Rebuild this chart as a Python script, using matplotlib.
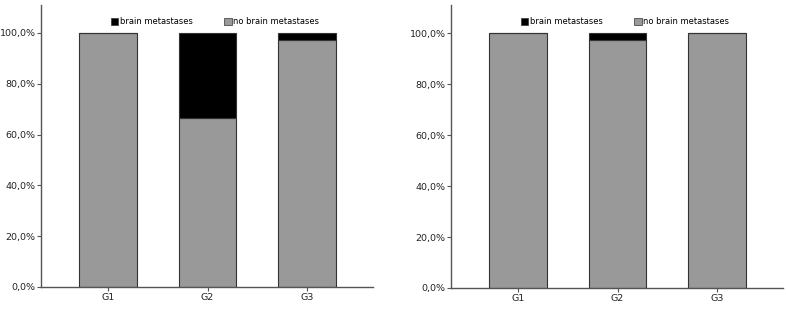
import matplotlib
matplotlib.use("Agg")
import matplotlib.pyplot as plt
from matplotlib.patches import Patch

categories = ["G1", "G2", "G3"]
left_brain = [0.0, 33.3, 2.7]
left_no_brain = [100.0, 66.7, 97.3]
right_brain = [0.0, 2.8, 0.0]
right_no_brain = [100.0, 97.2, 100.0]
yticks = [0, 20, 40, 60, 80, 100]
ytick_labels = ["0,0%", "20,0%", "40,0%", "60,0%", "80,0%", "100,0%"]
legend_labels = ["brain metastases", "no brain metastases"]

gray = "#999999"
black = "#000000"
edge = "#333333"
spine_col = "#555555"

fig = plt.figure(figsize=(7.86, 3.09), dpi=100)
axes = [fig.add_axes([0.0522, 0.0712, 0.4224, 0.9126]),
        fig.add_axes([0.5738, 0.068, 0.4224, 0.9158])]

data = [(left_no_brain, left_brain), (right_no_brain, right_brain)]
for ax, (nob, br) in zip(axes, data):
    x = list(range(len(categories)))
    ax.bar(x, nob, width=0.58, color=gray, edgecolor=edge, linewidth=0.8)
    ax.bar(x, br, bottom=nob, width=0.58, color=black, edgecolor=edge, linewidth=0.8)
    ax.set_xlim(-0.67, 2.66)
    ax.set_ylim(0, 111)
    ax.set_yticks(yticks)
    ax.set_yticklabels(ytick_labels)
    ax.set_xticks(x)
    ax.set_xticklabels(categories)
    for s in ["top", "right"]:
        ax.spines[s].set_visible(False)
    for s in ["left", "bottom"]:
        ax.spines[s].set_color(spine_col)
        ax.spines[s].set_linewidth(1.0)
    ax.tick_params(axis="both", length=3, width=0.8, color=spine_col,
                   labelsize=6.8, pad=1.0, labelcolor="#222222")
    handles = [Patch(facecolor=black, edgecolor=edge, linewidth=0.5),
               Patch(facecolor=gray, edgecolor=edge, linewidth=0.5)]
    ax.legend(handles, legend_labels, ncol=2, frameon=False, fontsize=6,
              loc="center", bbox_to_anchor=(0.524, 0.94),
              handlelength=0.9, handleheight=0.9, handletextpad=0.2,
              columnspacing=3.8, borderaxespad=0)

fig.savefig("out.png", dpi=100)
